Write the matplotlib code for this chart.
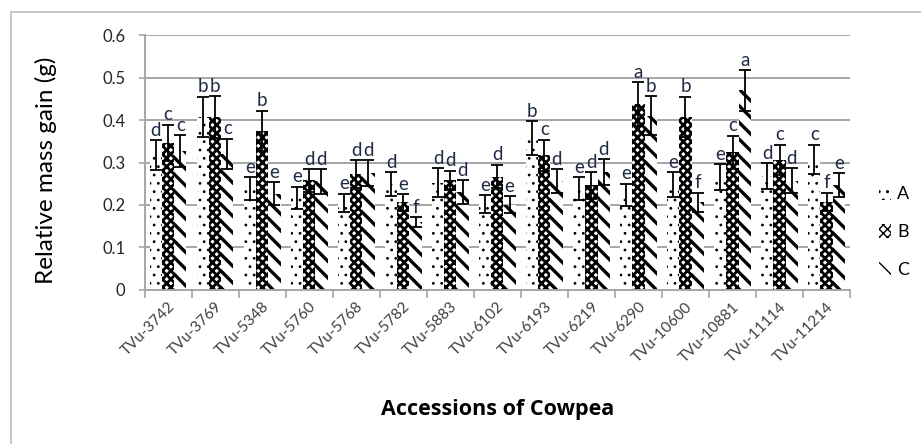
import numpy as np
import matplotlib
matplotlib.use('Agg')
import matplotlib.pyplot as plt
from matplotlib.patches import Rectangle, Patch

plt.rcParams['font.family'] = ['Lato', 'DejaVu Sans']

# data
accessions = ['TVu-3742', 'TVu-3769', 'TVu-5348', 'TVu-5760', 'TVu-5768',
              'TVu-5782', 'TVu-5883', 'TVu-6102', 'TVu-6193', 'TVu-6219',
              'TVu-6290', 'TVu-10600', 'TVu-10881', 'TVu-11114', 'TVu-11214']

a_vals = [0.317, 0.408, 0.238, 0.217, 0.205, 0.250, 0.252, 0.202, 0.357, 0.238,
          0.224, 0.248, 0.266, 0.268, 0.307]
a_err = [0.035, 0.047, 0.027, 0.026, 0.022, 0.028, 0.034, 0.021, 0.040, 0.027,
         0.026, 0.030, 0.031, 0.030, 0.035]
b_vals = [0.346, 0.407, 0.375, 0.258, 0.273, 0.206, 0.258, 0.267, 0.317, 0.246,
          0.438, 0.408, 0.324, 0.306, 0.207]
b_err = [0.043, 0.049, 0.047, 0.027, 0.033, 0.020, 0.023, 0.028, 0.037, 0.031,
         0.051, 0.047, 0.039, 0.036, 0.022]
c_vals = [0.327, 0.320, 0.227, 0.256, 0.275, 0.160, 0.230, 0.200, 0.256, 0.277,
          0.410, 0.206, 0.470, 0.257, 0.247]
c_err = [0.038, 0.036, 0.027, 0.029, 0.030, 0.012, 0.028, 0.020, 0.028, 0.031,
         0.046, 0.023, 0.048, 0.029, 0.028]

a_letters = ['d', 'b', 'e', 'e', 'e', 'd', 'd', 'e', 'b', 'e', 'e', 'e', 'e', 'd', 'c']
b_letters = ['c', 'b', 'b', 'd', 'd', 'e', 'd', 'd', 'c', 'd', 'a', 'b', 'c', 'c', 'f']
c_letters = ['c', 'c', 'e', 'd', 'd', 'f', 'd', 'e', 'd', 'd', 'b', 'f', 'a', 'd', 'e']

series_names = ['A', 'B', 'C']
y_ticks = [0, 0.1, 0.2, 0.3, 0.4, 0.5, 0.6]
y_tick_labels = ['0', '0.1', '0.2', '0.3', '0.4', '0.5', '0.6']

fig = plt.figure(figsize=(9.21, 4.44), dpi=100)
ax = fig.add_axes([0.157, 0.347, 0.766, 0.574])

# outer chart-area border (only left/top edges visible in the crop)
fig.patches.append(Rectangle((0.012, -0.2), 1.5, 0.2 + 0.973, transform=fig.transFigure,
                             fill=False, edgecolor='#bfbfbf', linewidth=1.2))

x = np.arange(len(accessions))
w = 0.26
series = [(a_vals, a_err, a_letters, '..', 0.8),
          (b_vals, b_err, b_letters, 'xxxx', 2.0),
          (c_vals, c_err, c_letters, '\\\\', 2.4)]

handles = []
for i, (vals, errs, letters, hatch, hlw) in enumerate(series):
    pos = x + (i - 1) * w
    with plt.rc_context({'hatch.linewidth': hlw}):
        ax.bar(pos, vals, w, facecolor='white', edgecolor='black',
               linewidth=0, hatch=hatch, zorder=2)
        handles.append(Patch(facecolor='white', edgecolor='black', linewidth=0,
                             hatch=hatch, label=series_names[i]))
    ax.errorbar(pos, vals, yerr=errs, fmt='none', ecolor='black', elinewidth=1.3,
                capsize=4, capthick=1.3, zorder=3)
    for xp, v, e, t in zip(pos, vals, errs, letters):
        ax.text(xp, v + e + 0.003, t, ha='center', va='bottom', fontsize=13.5,
                color='#1f2a44', zorder=4)

ax.set_xlim(-0.5, len(accessions) - 0.5)
ax.set_ylim(0, 0.6)
ax.set_yticks(y_ticks)
ax.set_yticklabels(y_tick_labels)
ax.yaxis.grid(True, color='#a6a6a6', linewidth=1.4, zorder=0)
ax.set_axisbelow(True)

# category labels at centres, tick marks at group boundaries
ax.set_xticks(np.arange(-0.5, len(accessions)), minor=False)
ax.set_xticklabels([])
ax.set_xticks(x, minor=True)
ax.set_xticklabels(accessions, minor=True, rotation=45, ha='right',
                   rotation_mode='anchor', fontsize=11, color='#404040')
ax.tick_params(axis='x', which='major', length=6, color='#a6a6a6', width=1.2)
ax.tick_params(axis='x', which='minor', length=0, pad=7)
ax.tick_params(axis='y', length=4, color='#a6a6a6', width=1.2, labelsize=12,
               labelcolor='#262626', pad=10)

for s in ['top', 'right']:
    ax.spines[s].set_visible(False)
for s in ['left', 'bottom']:
    ax.spines[s].set_color('#a6a6a6')
    ax.spines[s].set_linewidth(1.4)

fig.text(0.05, 0.617, 'Relative mass gain (g)', rotation=90, ha='center',
         va='center', fontsize=17.5, color='black')
fig.text(0.54, 0.077, 'Accessions of Cowpea', ha='center', va='center',
         fontsize=15.5, fontweight='bold', color='black',
         family=['Open Sans', 'DejaVu Sans'])

fig.legend(handles=handles, loc='center left', bbox_to_anchor=(0.941, 0.477),
           frameon=False, fontsize=13, handlelength=0.65, handleheight=0.8,
           handletextpad=0.35, labelspacing=1.2, borderpad=0.2)

fig.savefig('out.png', dpi=100)
